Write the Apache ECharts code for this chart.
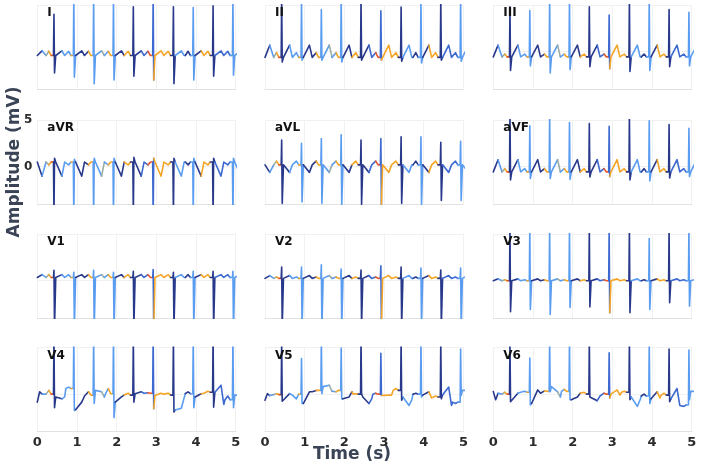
<!DOCTYPE html>
<html><head><meta charset="utf-8">
<script src="https://cdn.jsdelivr.net/npm/echarts@6/dist/echarts.min.js"></script>
<style>html,body{margin:0;padding:0;background:#fff}#c{width:701px;height:470px}</style>
</head><body><div id="c"></div>
<script>
// ---------- DATA ----------
const leadNames = ['I','II','III','aVR','aVL','aVF','V1','V2','V3','V4','V5','V6'];
const beatTimes = [0.42,0.92,1.42,1.92,2.42,2.92,3.43,3.93,4.43,4.93];
const xTickValues = [0,1,2,3,4,5];
const yTickValues = [0,5];

// simple leads (I..V3): baseline, P and T wave amplitude (relative to baseline)
const baseLevel = [-0.4,-0.6,-0.55, 0.5, 0.2,-0.55, 0.35, 0.25, 0.0];
const pAmp      = [0.45, 0.5, 0.3,-0.3, 0.4, 0.35, 0.3, 0.15, 0.1];
const tAmp      = [0.5, 1.3, 1.25,-1.5,-0.8, 1.3, 0.3, 0.3, 0.2];

const I_R   = [4.0,5.6,5.7,5.6,4.8,5.7,4.8,4.7,4.9,5.6];
const I_S   = [-2.25,-2.7,-3.4,-3.0,-2.6,-3.0,-3.4,-3.0,-2.6,-2.5];
const II_R  = [5.7,5.6,4.5,5.7,5.6,4.35,4.75,5.6,5.7,5.6];
const II_S  = [-1.1,-0.9,-0.9,-1.1,-0.9,-0.9,-1.0,-1.2,-0.9,-1.0];
const III_R = [4.8,4.4,5.6,5.6,4.8,3.9,5.6,5.6,4.5,4.2];
const III_S = [-2.0,-1.5,-2.25,-1.9,-1.6,-1.8,-2.1,-2.0,-1.6,-1.5];
const aVR_R = [-5.2,-5.4,-5.6,-5.5,-5.1,-5.4,-5.2,-5.1,-5.3,-5.5];
const aVR_S = [0.9,0.8,0.9,0.9,1.0,0.9,0.9,0.9,0.9,0.9];
const aVL_R = [2.85,2.5,3.0,3.4,2.85,3.0,3.2,3.2,2.6,2.7];
const aVL_S = [-3.9,-3.75,-3.9,-4.0,-4.0,-4.0,-3.9,-4.0,-3.6,-3.6];
const aVF_R = [5.6,4.35,5.6,4.7,4.6,4.3,5.6,4.9,4.5,4.1];
const aVF_S = [-1.4,-1.25,-1.25,-1.35,-1.1,-1.05,-1.4,-1.5,-1.2,-1.05];
const V1_R  = [1.1,0.9,1.1,0.9,1.0,1.2,0.9,1.0,1.0,1.0];
const V1_S  = [-5.0,-4.9,-5.1,-5.0,-4.9,-5.2,-5.0,-4.9,-5.0,-5.1];
const V2_R  = [1.45,1.45,1.7,1.25,1.15,1.6,1.45,1.35,1.15,1.35];
const V2_S  = [-4.9,-4.8,-5.0,-4.9,-4.8,-5.0,-4.9,-4.8,-4.9,-5.0];
const V3_R  = [5.7,5.6,5.7,5.6,5.7,5.6,5.7,4.5,5.6,5.7];
const V3_S  = [-3.3,-3.05,-3.6,-2.85,-2.8,-3.4,-3.4,-3.05,-2.35,-2.7];

// wandering leads V4..V6 (absolute values per beat)
const V4_R    = [6.2,6.0,6.1,6.3,6.0,6.2,6.1,6.0,6.2,6.1];
const V4_S    = [-1.45,-1.75,-1.0,-2.5,-0.85,-1.55,-1.9,-1.45,-1.4,-1.45];
const V4_head = [-0.85,0.25,0.0];
const V4_pre  = [0.0,0.6,-0.1,0.05,-0.1,0.1,-0.1,0.05,0.2,-0.6];
const V4_pv   = [0.4,0.75,0.25,0.6,0.1,0.15,0.1,0.25,0.3,-0.2];
const V4_post = [-0.3,-1.65,0.4,-0.85,0.05,-0.15,-1.7,-0.3,0.2,-0.1];
const V4_tv   = [-0.5,-0.85,0.25,-0.3,0.25,0.1,-1.5,0.05,0.95,-0.1];
const V4_te   = [-0.3,-0.2,-0.3,-0.1,0.1,0.0,-0.4,0.1,-1.1,-0.1];

const V5_R    = [5.8,3.8,5.8,4.9,5.8,4.35,5.8,5.8,5.8,4.8];
const V5_S    = [-0.75,-1.0,0.05,-0.5,0.05,-0.15,-0.65,-0.3,-0.5,-0.15];
const V5_head = [-0.65,0.05,-0.15];
const V5_pre  = [-0.05,0.0,0.4,0.4,0.0,0.0,0.4,0.0,-0.3,-0.85];
const V5_pv   = [0.05,-0.5,0.4,0.25,0.05,0.1,0.6,0.1,-0.2,-1.0];
const V5_post = [-0.65,-1.0,0.8,-0.5,-0.3,0.0,-0.3,-0.1,-0.1,0.4];
const V5_tv   = [0.05,0.25,0.95,-0.3,-1.0,-0.1,-1.2,0.25,0.75,0.4];
const V5_te   = [-0.1,0.25,0.3,0.25,-0.5,-0.1,-0.6,-0.4,-1.2,0.4];

const V6_R    = [5.6,3.85,5.7,5.6,5.7,4.4,5.7,5.6,4.8,4.7];
const V6_S    = [-0.8,-1.15,0.25,-0.6,-0.3,-0.4,-0.6,-1.0,-0.8,-0.6];
const V6_head = [0.27,-0.6,0.1];
const V6_pre  = [0.0,0.2,0.3,0.3,0.0,0.0,0.2,-0.2,-0.1,-1.15];
const V6_pv   = [0.2,0.3,0.35,0.5,0.2,0.1,0.3,0.0,0.1,-1.3];
const V6_post = [-0.6,-1.0,0.8,-0.6,-0.2,0.0,-0.3,-0.5,-0.5,0.3];
const V6_tv   = [0.1,0.45,0.25,-0.3,-0.7,0.45,-1.3,0.25,0.6,0.3];
const V6_te   = [0.2,0.1,-0.3,0.1,-0.2,-0.1,-0.6,-0.4,-1.2,0.3];

// time-based colouring (start of each segment, tone)
const segStart = [0,0.10,0.20,0.30,0.35,0.392,0.60,0.86,0.893,0.95,1.28,1.392,1.44,1.55,1.70,1.80,1.892,1.95,2.20,2.36,2.46,2.60,2.80,2.893,2.94,3.38,3.48,3.75,3.88,3.96,4.08,4.38,4.47,4.88];
const segTone  = ['dk','lt','gr','or','rd','dk','lt','or','lt','dk','or','lt','lt','gr','lt','or','lt','dk','or','dk','dk','md','rd','md','or','dk','lt','dk','lt','dk','or','dk','md','lt'];

// ---------- BUILD ----------
const palette = {dk:'#28398c', md:'#3d69d0', lt:'#5a9cf0', gr:'#9aaca6', or:'#f4a526', rd:'#e9582b'};

function buildLead(o){
  const pts = [];
  const g = (arr, k, dflt) => arr ? arr[k] : dflt;
  if (o.head) { pts.push([0,o.head[0]],[0.06,o.head[1]],[0.12,o.head[2]]); }
  else { pts.push([0,o.base],[0.12,o.base+o.T]); }
  beatTimes.forEach((r,k)=>{
    const pre = g(o.pre,k,o.base);
    pts.push([r-0.2, pre]);
    pts.push([r-0.13, g(o.pv,k,o.base+o.P)]);
    pts.push([r-0.07, pre]);
    pts.push([r-0.012, pre]);
    pts.push([r, o.R[k]]);
    pts.push([r+0.014, o.S[k]]);
    pts.push([r+0.045, g(o.post,k,o.base)]);
    pts.push([r+0.2, g(o.tv,k,o.base+o.T)]);
    pts.push([r+0.27, g(o.te,k,o.base)]);
  });
  return pts;
}

function toneAt(t){
  let k = 0;
  for (let i=0;i<segStart.length;i++) if (t >= segStart[i]) k = i;
  return segTone[k];
}
// split a lead's polyline into runs of equal tone (runs share their joint vertex)
function splitRuns(pts){
  const runs = [];
  let cur = null;
  for (let j=0;j<pts.length-1;j++){
    const tone = toneAt((pts[j][0]+pts[j+1][0])/2);
    if (!cur || cur.tone !== tone){ cur = {tone, data:[pts[j]]}; runs.push(cur); }
    cur.data.push(pts[j+1]);
  }
  return runs;
}

const simpleR = [I_R,II_R,III_R,aVR_R,aVL_R,aVF_R,V1_R,V2_R,V3_R];
const simpleS = [I_S,II_S,III_S,aVR_S,aVL_S,aVF_S,V1_S,V2_S,V3_S];
const leadData = [];
for (let i=0;i<9;i++){
  leadData.push(buildLead({base:baseLevel[i],P:pAmp[i],T:tAmp[i],R:simpleR[i],S:simpleS[i]}));
}
leadData.push(buildLead({R:V4_R,S:V4_S,head:V4_head,pre:V4_pre,pv:V4_pv,post:V4_post,tv:V4_tv,te:V4_te}));
leadData.push(buildLead({R:V5_R,S:V5_S,head:V5_head,pre:V5_pre,pv:V5_pv,post:V5_post,tv:V5_tv,te:V5_te}));
leadData.push(buildLead({R:V6_R,S:V6_S,head:V6_head,pre:V6_pre,pv:V6_pv,post:V6_post,tv:V6_tv,te:V6_te}));

const colLeft = [37.3,265,493.3];
const rowTop = [4.8,119.8,233.8,347.2];
const gW = 198.4, gH = 84.5;
const FONT = 'DejaVu Sans';

const grids=[], xAxes=[], yAxes=[], series=[], graphics=[];
leadNames.forEach((name,i)=>{
  const row = Math.floor(i/3), col = i%3;
  const L = colLeft[col], T = rowTop[row];
  grids.push({left:L, top:T, width:gW, height:gH, containLabel:false});
  xAxes.push({gridIndex:i, type:'value', min:0, max:5, interval:1,
    axisLine:{show:true, onZero:false, lineStyle:{color:'#e2e2e2', width:1}},
    axisTick:{show:false},
    splitLine:{show:true, lineStyle:{color:'#f1f1f1', width:1}},
    axisLabel:{show: row===3, fontFamily:FONT, fontWeight:'bold', fontSize:13, color:'#2b2b2b', margin:4}
  });
  yAxes.push({gridIndex:i, type:'value', min:-4, max:5,
    axisLine:{show:false},
    axisTick:{show:false, customValues:yTickValues},
    splitLine:{show:true, lineStyle:{color:'#f1f1f1', width:1}},
    axisLabel:{show: i===3, customValues:yTickValues, fontFamily:FONT, fontWeight:'bold', fontSize:12, color:'#2b2b2b', margin:5}
  });
  splitRuns(leadData[i]).forEach(run=>{
    series.push({type:'line', name:name, xAxisIndex:i, yAxisIndex:i, data:run.data,
      showSymbol:false, symbol:'none', clip:true, z:2,
      lineStyle:{width:1.6, color:palette[run.tone], cap:'round', join:'round'}});
  });
  graphics.push({type:'text', left:L+10, top:T+2.5, z:10,
    style:{text:name, font:'bold 12px "DejaVu Sans"', fill:'#111'}});
});

graphics.push({type:'text', x:14.5, y:162, rotation:Math.PI/2,
  style:{text:'Amplitude (mV)', font:'bold 17px "DejaVu Sans"', fill:'#3a4456', align:'center', verticalAlign:'middle'}});
graphics.push({type:'text', x:352, y:455,
  style:{text:'Time (s)', font:'bold 17px "DejaVu Sans"', fill:'#3a4456', align:'center', verticalAlign:'middle'}});

const chart = echarts.init(document.getElementById('c'), null, {renderer:'canvas'});
chart.setOption({
  animation:false,
  backgroundColor:'#fff',
  grid:grids, xAxis:xAxes, yAxis:yAxes, series:series,
  graphic:graphics
});
</script></body></html>
